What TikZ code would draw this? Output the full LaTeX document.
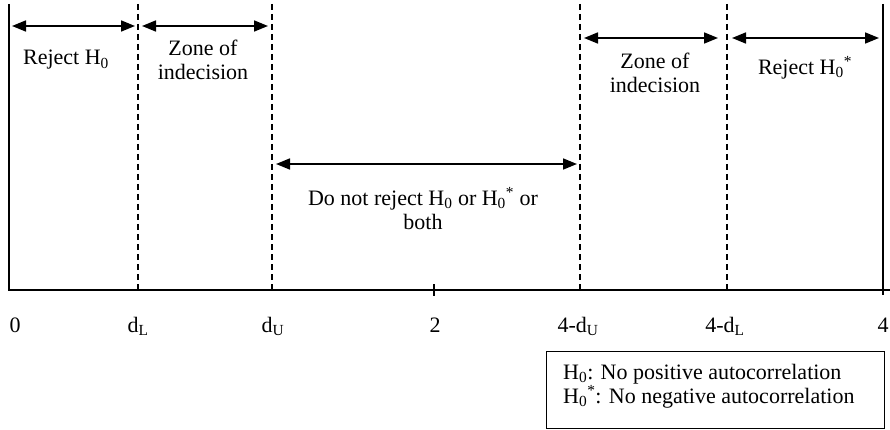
\documentclass[tikz,border=0pt]{standalone}
\usepackage{fontspec}
\setmainfont{Liberation Serif}
\usetikzlibrary{arrows.meta}
\begin{document}
\begin{tikzpicture}[x=1pt,y=-1pt,
  lbl/.style={font=\fontsize{22}{24.5}\selectfont, align=center, inner sep=0pt},
  axlbl/.style={font=\fontsize{22}{24.5}\selectfont, inner sep=0pt, anchor=base},
  dbl/.style={{Triangle[length=14pt,width=11pt]}-{Triangle[length=14pt,width=11pt]}, line width=1.7pt},
  divider/.style={dash pattern=on 6pt off 4pt, line width=1.1pt},
  solidline/.style={line width=1.1pt},
  axisline/.style={line width=1.5pt}]
\useasboundingbox (0,0) rectangle (890,430);
% coordinates
\coordinate (lt) at (9,4);   \coordinate (lb) at (9,290);
\coordinate (rt) at (883,4); \coordinate (rb) at (883,295);
\coordinate (ax0) at (8,290); \coordinate (ax1) at (890,290);
\coordinate (dLt) at (138,4);  \coordinate (dLb) at (138,290);
\coordinate (dUt) at (272,4);  \coordinate (dUb) at (272,290);
\coordinate (fdUt) at (580,4); \coordinate (fdUb) at (580,290);
\coordinate (fdLt) at (727,4); \coordinate (fdLb) at (727,290);
\coordinate (tk2t) at (434,284); \coordinate (tk2b) at (434,296);
% frame lines
\draw[solidline] (lt) -- (lb);
\draw[solidline] (rt) -- (rb);
\draw[axisline] (ax0) -- (ax1);
\draw[solidline] (tk2t) -- (tk2b);
\draw[divider] (dLt) -- (dLb);
\draw[divider] (dUt) -- (dUb);
\draw[divider] (fdUt) -- (fdUb);
\draw[divider] (fdLt) -- (fdLb);
% arrows
\coordinate (a1s) at (12,26);  \coordinate (a1e) at (135,26);
\coordinate (a2s) at (142,26); \coordinate (a2e) at (268,26);
\coordinate (a3s) at (276,164); \coordinate (a3e) at (577,164);
\coordinate (a4s) at (584,38); \coordinate (a4e) at (718,38);
\coordinate (a5s) at (732,38); \coordinate (a5e) at (879,38);
\draw[dbl] (a1s) -- (a1e);
\draw[dbl] (a2s) -- (a2e);
\draw[dbl] (a3s) -- (a3e);
\draw[dbl] (a4s) -- (a4e);
\draw[dbl] (a5s) -- (a5e);
% labels
\node[lbl] (rej) at (66,60) {Reject H\textsubscript{0}};
\node[lbl] (zone1) at (203,60) {Zone of\\indecision};
\node[lbl] (mid) at (423,209) {Do not reject H\textsubscript{0} or H\textsubscript{0}\textsuperscript{*} or\\both};
\node[lbl] (zone2) at (655,73) {Zone of\\indecision};
\node[lbl] (rejs) at (805,68) {Reject H\textsubscript{0}\textsuperscript{*}};
% axis labels
\node[axlbl] (l0) at (15,332) {0};
\node[axlbl] (l1) at (138,332) {d\textsubscript{L}};
\node[axlbl] (l2) at (273,332) {d\textsubscript{U}};
\node[axlbl] (l3) at (435,332) {2};
\node[axlbl] (l4) at (578,332) {4-d\textsubscript{U}};
\node[axlbl] (l5) at (725,332) {4-d\textsubscript{L}};
\node[axlbl] (l6) at (883,332) {4};
% legend
\node[draw, line width=0.9pt, minimum width=338pt, minimum height=77pt, inner sep=0pt] (legbox) at (715,389.5) {};
\node[lbl, align=left, anchor=west] (legtxt) at (563,386) {H\textsubscript{0}: No positive autocorrelation\\H\textsubscript{0}\textsuperscript{*}: No negative autocorrelation};
\end{tikzpicture}
\end{document}
